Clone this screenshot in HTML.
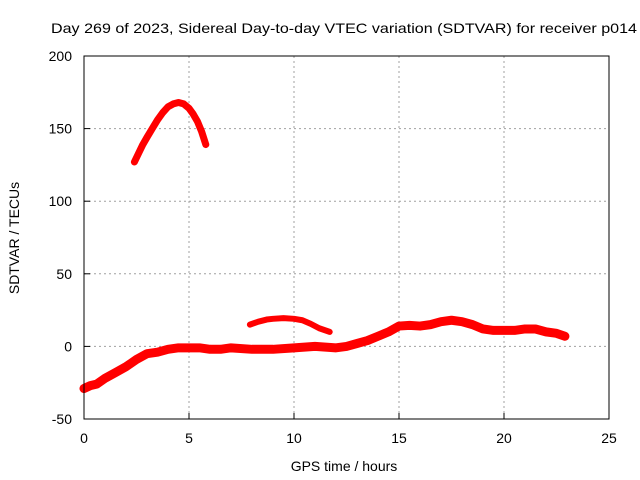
<!DOCTYPE html>
<html><head><meta charset="utf-8"><style>
body{margin:0;background:#fff;}
svg{display:block;font-family:"Liberation Sans",sans-serif;}
</style></head><body>
<svg id="c" width="640" height="480">
<rect width="640" height="480" fill="#fff"/>
<text x="344" y="33" font-size="14" text-anchor="middle" textLength="586" lengthAdjust="spacingAndGlyphs">Day 269 of 2023, Sidereal Day-to-day VTEC variation (SDTVAR) for receiver p014</text>
<g id="grid"></g>
<g id="series"></g>
<rect x="84" y="56" width="525" height="363" fill="none" stroke="#000" stroke-width="1"/>
<g id="axes"></g>
<text x="344" y="471" font-size="14" text-anchor="middle">GPS time / hours</text>
<text transform="translate(19,238) rotate(-90)" font-size="14" text-anchor="middle">SDTVAR / TECUs</text>
</svg>
<script>
const xTicks=[0,5,10,15,20,25];
const yTicks=[-50,0,50,100,150,200];
const mainHours=[0,0.3,0.6,1,1.5,2,2.5,3,3.5,4,4.5,5,5.5,6,6.5,7,8,9,10,11,12,12.5,13,13.5,14,14.5,15,15.5,16,16.5,17,17.5,18,18.5,19,19.5,20,20.5,21,21.5,22,22.5,22.9];
const mainVals=[-29,-27,-26,-22,-18,-14,-9,-5,-4,-2,-1,-1,-1,-2,-2,-1,-2,-2,-1,0,-1,0,2,4,7,10,14,14.5,14,15,17,18,17,15,12,11,11,11,12,12,10,9,7];
const arcHours=[2.4,2.6,2.8,3,3.25,3.5,3.75,4,4.25,4.5,4.75,5,5.2,5.4,5.6,5.8];
const arcVals=[127,133,139,144,150,156,161,165,167,168,167,164,160,155,148,139];
const midHours=[7.9,8.3,8.7,9,9.5,10,10.4,10.8,11.2,11.7];
const midVals=[15,17,18.5,19,19.5,19,18,15.5,12.5,10];
const X=h=>84+h*21, Y=v=>346.4-v*1.452;
const NS="http://www.w3.org/2000/svg";
function mk(t,a,p){const e=document.createElementNS(NS,t);for(const k in a)e.setAttribute(k,a[k]);p.appendChild(e);return e;}
const grid=document.getElementById('grid'),axes=document.getElementById('axes'),ser=document.getElementById('series');
xTicks.forEach(t=>{
 if(t>0&&t<25){const l=mk('line',{x1:X(t),x2:X(t),y1:56,y2:419,stroke:'#a0a0a0','stroke-dasharray':'2,3'},grid);
 
 }
 const tk=mk('line',{x1:X(t),x2:X(t),y1:419,y2:413,stroke:'#000'},axes);
 
 
 const tx=mk('text',{x:X(t),y:443,'font-size':14,'text-anchor':'middle'},axes);tx.textContent=t;
 
 
});
yTicks.forEach(t=>{
 if(t>-50&&t<200){const l=mk('line',{x1:84,x2:609,y1:Y(t),y2:Y(t),stroke:'#a0a0a0','stroke-dasharray':'2,3'},grid);
 
 }
 const tk=mk('line',{x1:84,x2:90,y1:Y(t),y2:Y(t),stroke:'#000'},axes);
 
 
 const tx=mk('text',{x:72,y:Y(t)+5,'font-size':14,'text-anchor':'end'},axes);tx.textContent=t;
 
 
});
function draw(hs,vs,name,w){
 const p=mk('polyline',{points:hs.map((h,i)=>X(h)+','+Y(vs[i])).join(' '),fill:'none',stroke:'#f00','stroke-width':w,'stroke-linejoin':'round','stroke-linecap':'round'},ser);
 
 
}
draw(mainHours,mainVals,'sdtvar-main-series',9);
draw(arcHours,arcVals,'sdtvar-arc-series',7);
draw(midHours,midVals,'sdtvar-mid-series',6);
</script>
</body></html>
